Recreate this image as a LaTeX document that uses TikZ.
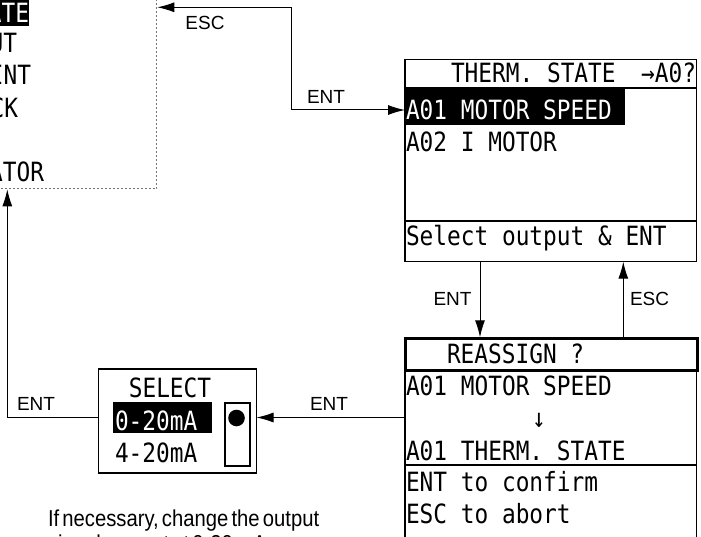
\documentclass[tikz,border=0pt]{standalone}
\usepackage{fontspec}
\setmainfont{Liberation Sans}
\newfontfamily\lcdfam[FakeStretch=0.86]{DejaVu Sans Mono}
\newfontfamily\capfam[FakeStretch=0.88]{Liberation Sans}
\usetikzlibrary{arrows.meta}
\begin{document}
\begin{tikzpicture}[x=1pt,y=-1pt,
  lcd/.style={font={\lcdfam\fontsize{26.5pt}{30pt}\selectfont}, inner sep=0pt, outer sep=0pt, anchor=base west},
  lcdw/.style={lcd, text=white},
  lbl/.style={font={\fontsize{19pt}{22pt}\selectfont}, inner sep=0pt, outer sep=0pt},
  captext/.style={font={\capfam\fontsize{23pt}{26pt}\selectfont\spaceskip=3.2pt plus 1pt}, inner sep=0pt, outer sep=0pt, anchor=base west},
  frame/.style={draw, line width=1.2pt, inner sep=0pt, outer sep=0pt},
  thickline/.style={line width=2.2pt},
  arr/.style={line width=1pt, -{Latex[length=17pt,width=10pt]}},
  arrboth/.style={line width=1pt, {Latex[length=17pt,width=10pt]}-{Latex[length=17pt,width=10pt]}}
]
\useasboundingbox (0,0) rectangle (701,537);
\clip (0,0) rectangle (701,537);
\fill[white] (0,0) rectangle (701,537);

% ---------- helper coordinates ----------
\coordinate (escrow) at (0,7.3);
\coordinate (entrow) at (0,110);
\coordinate (midx) at (291.7,0);
\coordinate (leftx) at (7.3,0);
\coordinate (rowA) at (0,417.5);

% ---------- dotted menu box (top left, partly off page) ----------
\node[draw=black!55, dash pattern=on 2pt off 2pt, line width=1pt, inner sep=0pt,
      minimum width=260pt, minimum height=260pt, anchor=south east] (db) at (157.3,189.3) {};
\fill (-20,-5) rectangle (29,26);
\node[lcd, text=white, anchor=base east] (d1) at (29,23) {ATE};
\node[lcd, anchor=base east] (d2) at (17,53) {UT};
\node[lcd, anchor=base east] (d3) at (31,85) {INT};
\node[lcd, anchor=base east] (d4) at (18,118) {CK};
\node[lcd, anchor=base east] (d5) at (44,182) {ATOR};

% ---------- top right display ----------
\node[frame, minimum width=291.7pt, minimum height=202.4pt, anchor=north west] (tb) at (405,59.3) {};
\draw[thickline] (405,88.3) -- (696.7,88.3);
\node[lcd] (t0) at (451,83) {THERM. STATE};
\node[lcd, anchor=base east] (t0b) at (696,83) {→A0?};
\fill (405,89.3) rectangle (625,125);
\node[lcdw] (t1) at (406,120) {A01 MOTOR SPEED};
\node[lcd] (t2) at (406,152) {A02 I MOTOR};
\draw[thickline] (405,220.7) -- (696.7,220.7);
\node[lcd] (t3) at (406,246) {Select output \& ENT};

% ---------- bottom right display ----------
\node[frame, minimum width=291.7pt, minimum height=260pt, anchor=north west] (bb) at (405,337.3) {};
\node[draw, line width=2.2pt, inner sep=0pt, minimum width=291.7pt, minimum height=32pt, anchor=north west] (bh) at (405,337.3) {};
\node[lcd] (b0) at (447,363) {REASSIGN ?};
\node[lcd] (b1) at (406,395) {A01 MOTOR SPEED};
\node[lcd, anchor=center] (b2) at (539,420) {↓};
\node[lcd] (b3) at (406,460) {A01 THERM. STATE};
\draw[thickline] (405,465) -- (696.7,465);
\node[lcd] (b4) at (406,491) {ENT to confirm};
\node[lcd] (b5) at (406,523) {ESC to abort};

% ---------- select box ----------
\node[frame, minimum width=158pt, minimum height=104pt, anchor=north west] (sb) at (98.5,369) {};
\node[lcd, anchor=base] (s0) at (170,397) {SELECT};
\fill (113,402) rectangle (212,433);
\node[lcdw] (s1) at (115,430) {0-20mA};
\node[lcd] (s2) at (115,462) {4-20mA};
\node[draw, line width=1.6pt, inner sep=0pt, minimum width=25pt, minimum height=63pt, anchor=north west] (sw) at (224,402) {};
\fill (236.5,418) circle (8.3pt);

% ---------- connectors ----------
\draw[arrboth] (db.east |- escrow) -- (midx |- escrow) -- (midx |- entrow) -- (tb.west |- entrow);
\draw[arr] ([xshift=75pt]tb.south west) -- ([xshift=75pt]bb.north west);
\draw[arr] ([xshift=218.3pt]bb.north west) -- ([xshift=218.3pt]tb.south west);
\draw[arr] (bb.west |- rowA) -- (sb.east |- rowA);
\draw[arr] (sb.west |- rowA) -- (leftx |- rowA) -- (leftx |- db.south);

% ---------- connector labels ----------
\node[lbl] (lesc1) at (205,22.5) {ESC};
\node[lbl] (lent1) at (326,96.5) {ENT};
\node[lbl] (lent2) at (452.5,298.5) {ENT};
\node[lbl, anchor=west] (lesc2) at (630,298.5) {ESC};
\node[lbl] (lent3) at (329,404) {ENT};
\node[lbl] (lent4) at (36,404) {ENT};

% ---------- caption ----------
\node[captext] (c1) at (48,526) {If necessary, change the output};
\node[captext] (c2) at (48,551) {signal ; preset at 0-20 mA};
\end{tikzpicture}
\end{document}
